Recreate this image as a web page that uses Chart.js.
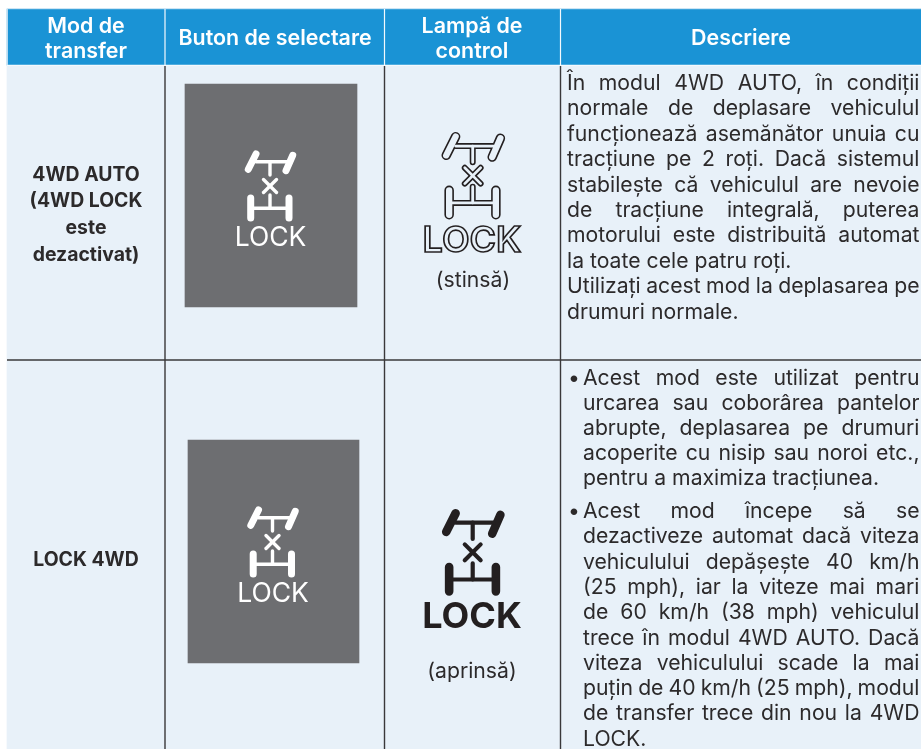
<!DOCTYPE html>
<html>
<head>
<meta charset="utf-8">
<style>
  html, body { margin: 0; padding: 0; background: #fff; }
  canvas { display: block; }
</style>
<script src="https://cdn.jsdelivr.net/npm/chart.js@4"></script>
</head>
<body>
<canvas id="tableChart" width="921" height="749"></canvas>
<script>
// table text
const headers = [['Mod de', 'transfer'], ['Buton de selectare'], ['Lampă de', 'control'], ['Descriere']];
const modeAuto = ['4WD AUTO', '(4WD LOCK', 'este', 'dezactivat)'];
const modeLock = ['LOCK 4WD'];
const lampStates = ['(stinsă)', '(aprinsă)'];
const descAuto = [
    'În modul 4WD AUTO, în condiții',
    'normale de deplasare vehiculul',
    'funcționează asemănător unuia cu',
    'tracțiune pe 2 roți. Dacă sistemul',
    'stabilește că vehiculul are nevoie',
    'de tracțiune integrală, puterea',
    'motorului este distribuită automat',
    'la toate cele patru roți.',
    'Utilizați acest mod la deplasarea pe',
    'drumuri normale.'
];
const descLockA = [
    'Acest mod este utilizat pentru',
    'urcarea sau coborârea pantelor',
    'abrupte, deplasarea pe drumuri',
    'acoperite cu nisip sau noroi etc.,',
    'pentru a maximiza tracțiunea.'
];
const descLockB = [
    'Acest mod începe să se',
    'dezactiveze automat dacă viteza',
    'vehiculului depășește 40 km/h',
    '(25 mph), iar la viteze mai mari',
    'de 60 km/h (38 mph) vehiculul',
    'trece în modul 4WD AUTO. Dacă',
    'viteza vehiculului scade la mai',
    'puțin de 40 km/h (25 mph), modul',
    'de transfer trece din nou la 4WD',
    'LOCK.'
];

// table grid, in page pixels
const columnEdges = [7, 165, 384.5, 560.5, 921];
const rowEdges = [9, 65, 360, 749];

// drive icon strokes around the centre of the X
const wheelStrokes = [
    [[-21.7, -16.7], [-14, -32]],
    [[16, -15.3], [22.7, -30.7]],
    [[-19.3, 12], [-19.3, 32]],
    [[19, 12], [19, 32]]
];
const axleStrokes = [
    [[-14, -24.3], [17.3, -24.3]],
    [[0, -24.3], [0, -11]],
    [[-6.5, -6.5], [6.5, 6.5]],
    [[-6.5, 6.5], [6.5, -6.5]],
    [[0, 9], [0, 22.3]],
    [[-19.3, 22.3], [19.3, 22.3]]
];

const BODY = '#e8f1f9', HEAD = '#1a93d5', GREY = '#6d6e71', INK = '#2c2a2b';
const FONT = 'Inter, sans-serif';

function box(x1, x2, y1, y2, color) {
    return {
        type: 'bar',
        data: [{ x: (x1 + x2) / 2, y: [y1, y2] }],
        barThickness: x2 - x1,
        backgroundColor: color,
        borderWidth: 0
    };
}

function rule(points, color, width, cap) {
    return {
        type: 'line',
        data: points.map(p => ({ x: p[0], y: p[1] })),
        borderColor: color,
        borderWidth: width,
        borderCapStyle: cap || 'butt',
        pointRadius: 0,
        fill: false
    };
}

function iconStrokes(cx, cy, scale, color, wheelW, axleW) {
    const place = s => s.map(p => [cx + p[0] * scale, cy + p[1] * scale]);
    return wheelStrokes.map(s => rule(place(s), color, wheelW, 'round'))
        .concat(axleStrokes.map(s => rule(place(s), color, axleW, 'round')));
}

const datasets = [
    box(columnEdges[0], 921, rowEdges[1], rowEdges[3], BODY),
    box(columnEdges[0], 921, rowEdges[0], rowEdges[1], HEAD),
    box(185, 357, 84, 307, GREY),
    box(188, 359, 440, 663, GREY),
    rule([[7, 8.7], [921, 8.7]], '#cfe6f5', 1),
    rule([[7, 65.3], [921, 65.3]], '#f4f9fd', 1.2),
    rule([[7, 9], [7, 65]], '#cfe6f5', 1),
    rule([[165, 9], [165, 65]], '#f4f9fd', 1.2),
    rule([[384.5, 9], [384.5, 65]], '#f4f9fd', 1.2),
    rule([[560.5, 9], [560.5, 65]], '#f4f9fd', 1.2),
    rule([[165, 66], [165, 749]], '#3a383a', 1.4),
    rule([[384.5, 66], [384.5, 749]], '#3a383a', 1.4),
    rule([[560.5, 66], [560.5, 749]], '#3a383a', 1.4),
    rule([[7, 360], [921, 360]], '#3a383a', 1.6),
    ...iconStrokes(270, 186, 1, '#ffffff', 7, 3.4),
    ...iconStrokes(272.5, 542, 1, '#ffffff', 7, 3.4),
    // lamp off: dark outline first, light core on top
    ...iconStrokes(472.7, 175.7, 1.22, '#231f20', 9.5, 6),
    ...iconStrokes(472.7, 175.7, 1.22, BODY, 6.3, 2.8),
    ...iconStrokes(472.7, 552.3, 1.22, '#231f20', 8.6, 4.2)
];
datasets.forEach((d, i) => { d.order = -i; });

function centred(ctx, lines, cx, baselines) {
    ctx.textAlign = 'center';
    lines.forEach((line, i) => ctx.fillText(line, cx, baselines[i]));
}

// stretches the gaps between words so a line runs from x1 to x2
function justified(ctx, line, x1, x2, y) {
    const words = line.split(' ');
    const total = words.reduce((sum, w) => sum + ctx.measureText(w).width, 0);
    const gap = (x2 - x1 - total) / (words.length - 1);
    let x = x1;
    ctx.textAlign = 'left';
    words.forEach(w => {
        ctx.fillText(w, x, y);
        x += ctx.measureText(w).width + gap;
    });
}

function paragraph(ctx, lines, x1, x2, y0, pitch, flush) {
    lines.forEach((line, i) => {
        const y = y0 + i * pitch;
        if (flush.includes(i)) {
            ctx.textAlign = 'left';
            ctx.fillText(line, x1, y);
        } else {
            justified(ctx, line, x1, x2, y);
        }
    });
}

const tableText = {
    id: 'tableText',
    afterDatasetsDraw(chart) {
        const ctx = chart.ctx;
        ctx.save();
        ctx.textBaseline = 'alphabetic';

        ctx.fillStyle = '#ffffff';
        ctx.font = '600 21.4px ' + FONT;
        centred(ctx, headers[0], 86, [33, 58]);
        centred(ctx, headers[1], 275, [45]);
        centred(ctx, headers[2], 472, [33, 58]);
        centred(ctx, headers[3], 741, [45]);

        ctx.fillStyle = INK;
        ctx.font = '700 19.4px ' + FONT;
        centred(ctx, modeAuto, 86, [181, 207, 234, 261]);
        centred(ctx, modeLock, 86, [566]);

        ctx.font = '400 21.2px ' + FONT;
        centred(ctx, [lampStates[0]], 473, [287]);
        centred(ctx, [lampStates[1]], 472, [678]);
        paragraph(ctx, descAuto, 567, 919.5, 90, 25.4, [7, 9]);
        paragraph(ctx, descLockA, 583, 919.5, 385, 25.1, [4]);
        paragraph(ctx, descLockB, 583, 919.5, 518, 25.3, [9]);
        ctx.textAlign = 'left';
        ctx.fillText('•', 568, 385);
        ctx.fillText('•', 568, 518);

        // LOCK captions under the icons
        ctx.textAlign = 'center';
        ctx.fillStyle = '#ffffff';
        ctx.font = '400 26.5px ' + FONT;
        ctx.fillText('LOCK', 270.5, 246);
        ctx.fillText('LOCK', 273, 602);
        ctx.font = '600 36px ' + FONT;
        ctx.fillStyle = BODY;
        ctx.fillText('LOCK', 472, 251.5);
        ctx.strokeStyle = '#231f20';
        ctx.lineWidth = 1.7;
        ctx.strokeText('LOCK', 472, 251.5);
        ctx.fillStyle = '#231f20';
        ctx.font = '700 36px ' + FONT;
        ctx.fillText('LOCK', 472, 628);
        ctx.restore();
    }
};

new Chart(document.getElementById('tableChart').getContext('2d'), {
    type: 'bar',
    data: { datasets: datasets },
    options: {
        responsive: false,
        animation: false,
        events: [],
        layout: { padding: 0 },
        datasets: { bar: { grouped: false } },
        plugins: { legend: { display: false }, tooltip: { enabled: false } },
        scales: {
            x: { type: 'linear', min: 0, max: 921, offset: false, display: false },
            y: { type: 'linear', min: 0, max: 749, reverse: true, offset: false, display: false }
        }
    },
    plugins: [tableText]
});
</script>
</body>
</html>
